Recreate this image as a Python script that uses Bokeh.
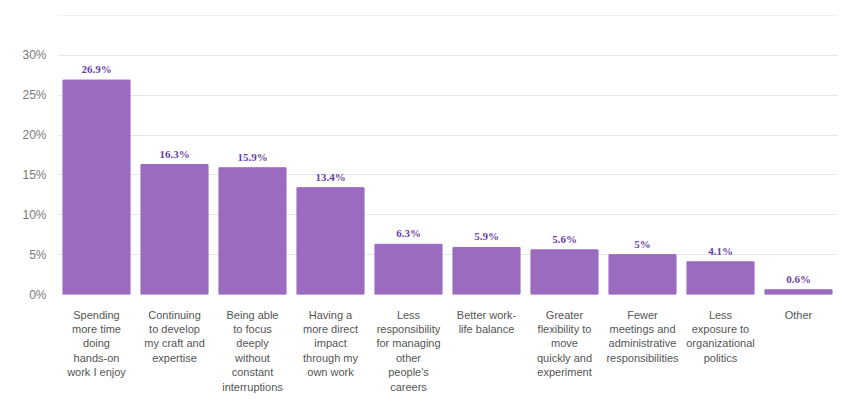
from bokeh.plotting import figure
from bokeh.models import ColumnDataSource, NumeralTickFormatter, LabelSet, FixedTicker, Range1d
from bokeh.embed import file_html
from bokeh.resources import INLINE

categories = ["Spending\nmore time\ndoing\nhands-on\nwork I enjoy",
              "Continuing\nto develop\nmy craft and\nexpertise",
              "Being able\nto focus\ndeeply\nwithout\nconstant\ninterruptions",
              "Having a\nmore direct\nimpact\nthrough my\nown work",
              "Less\nresponsibility\nfor managing\nother\npeople's\ncareers",
              "Better work-\nlife balance",
              "Greater\nflexibility to\nmove\nquickly and\nexperiment",
              "Fewer\nmeetings and\nadministrative\nresponsibilities",
              "Less\nexposure to\norganizational\npolitics",
              "Other"]
values = [26.9, 16.3, 15.9, 13.4, 6.3, 5.9, 5.6, 5.0, 4.1, 0.6]
labels = ["26.9%", "16.3%", "15.9%", "13.4%", "6.3%", "5.9%", "5.6%", "5%", "4.1%", "0.6%"]

src = ColumnDataSource(dict(x=categories, y=[v / 100 for v in values], lab=labels))

p = figure(x_range=categories, y_range=Range1d(0, 0.35), width=847, height=395,
           output_backend="svg", toolbar_location=None,
           min_border_left=57, min_border_right=10, min_border_top=15, min_border_bottom=10)
p.vbar(x="x", top="y", width=0.86, source=src, color="#9b6bbf")
p.add_layout(LabelSet(x="x", y="y", text="lab", source=src, text_align="center",
                      y_offset=5, text_font_size="11px", text_font_style="bold",
                      text_color="#6a3fa6", text_font="Liberation Sans"))
p.yaxis.ticker = FixedTicker(ticks=[i * 0.05 for i in range(8)])
p.yaxis.formatter = NumeralTickFormatter(format="0%")
for ax in (p.xaxis, p.yaxis):
    ax.axis_line_color = None
    ax.major_tick_line_color = None
    ax.minor_tick_line_color = None
    ax.major_label_text_font = "Liberation Sans"
    ax.major_label_text_font_size = "11px"
    ax.major_label_text_color = "#555555"
p.yaxis.major_label_text_font_size = "12px"
p.yaxis.major_label_text_color = "#777777"
p.xaxis.major_label_standoff = 8
p.xgrid.grid_line_color = None
p.ygrid.grid_line_color = "#e6e6e6"
p.outline_line_color = None

open("out.html", "w").write(file_html(p, INLINE))
